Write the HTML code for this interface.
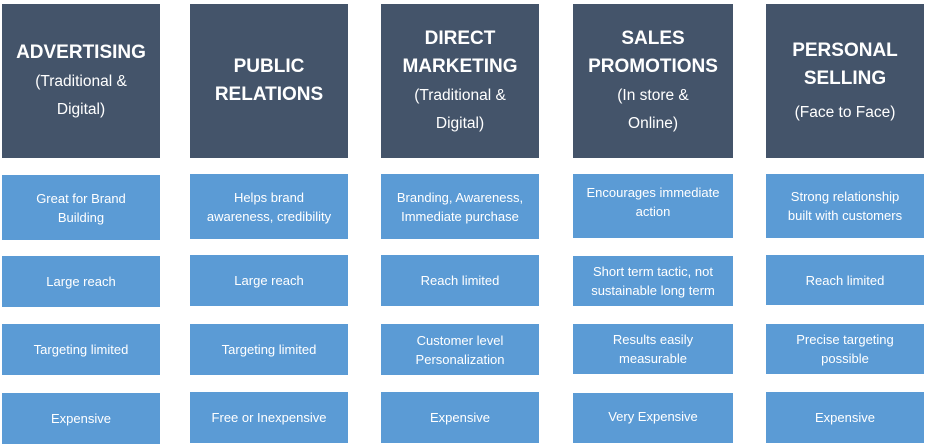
<!DOCTYPE html>
<html><head><meta charset="utf-8"><style>
html,body{margin:0;padding:0;background:#fff;width:926px;height:446px;overflow:hidden;font-family:"Liberation Sans",sans-serif}
.b{position:absolute;display:flex;align-items:center;justify-content:center;text-align:center;color:#fff;box-sizing:border-box;padding:0 4px}
.h{background:#44546a;top:4px;height:154px;font-size:19px;font-weight:bold;line-height:28px}
.h span{font-weight:normal;font-size:15.5px;line-height:24px}
.c{background:#5b9bd5;font-size:13px;line-height:19px}
</style></head><body>
<div class="b h" style="left:2px;width:158px"><div>ADVERTISING<br><span>(Traditional &amp;<br>Digital)</span></div></div>
<div class="b h" style="left:190px;width:158px"><div>PUBLIC<br>RELATIONS</div></div>
<div class="b h" style="left:381px;width:158px"><div>DIRECT<br>MARKETING<br><span>(Traditional &amp;<br>Digital)</span></div></div>
<div class="b h" style="left:573px;width:160px"><div>SALES<br>PROMOTIONS<br><span>(In store &amp;<br>Online)</span></div></div>
<div class="b h" style="left:766px;width:158px"><div>PERSONAL<br>SELLING<br><span style="display:block;margin-top:8px">(Face to Face)</span></div></div>

<div class="b c" style="left:2px;width:158px;top:175px;height:65px">Great for Brand<br>Building</div>
<div class="b c" style="left:190px;width:158px;top:174px;height:65px">Helps brand<br>awareness, credibility</div>
<div class="b c" style="left:381px;width:158px;top:174px;height:65px">Branding, Awareness,<br>Immediate purchase</div>
<div class="b c" style="left:573px;width:160px;top:174px;height:64px;padding-bottom:8px">Encourages immediate<br>action</div>
<div class="b c" style="left:766px;width:158px;top:174px;height:64px">Strong relationship<br>built with customers</div>

<div class="b c" style="left:2px;width:158px;top:256px;height:51px">Large reach</div>
<div class="b c" style="left:190px;width:158px;top:255px;height:51px">Large reach</div>
<div class="b c" style="left:381px;width:158px;top:255px;height:51px">Reach limited</div>
<div class="b c" style="left:573px;width:160px;top:256px;height:50px">Short term tactic, not<br>sustainable long term</div>
<div class="b c" style="left:766px;width:158px;top:255px;height:50px">Reach limited</div>

<div class="b c" style="left:2px;width:158px;top:324px;height:51px">Targeting limited</div>
<div class="b c" style="left:190px;width:158px;top:324px;height:51px">Targeting limited</div>
<div class="b c" style="left:381px;width:158px;top:324px;height:51px">Customer level<br>Personalization</div>
<div class="b c" style="left:573px;width:160px;top:324px;height:50px">Results easily<br>measurable</div>
<div class="b c" style="left:766px;width:158px;top:324px;height:50px">Precise targeting<br>possible</div>

<div class="b c" style="left:2px;width:158px;top:393px;height:51px">Expensive</div>
<div class="b c" style="left:190px;width:158px;top:392px;height:51px">Free or Inexpensive</div>
<div class="b c" style="left:381px;width:158px;top:392px;height:51px">Expensive</div>
<div class="b c" style="left:573px;width:160px;top:393px;height:50px;padding-bottom:4px">Very Expensive</div>
<div class="b c" style="left:766px;width:158px;top:392px;height:51px">Expensive</div>
</body></html>
